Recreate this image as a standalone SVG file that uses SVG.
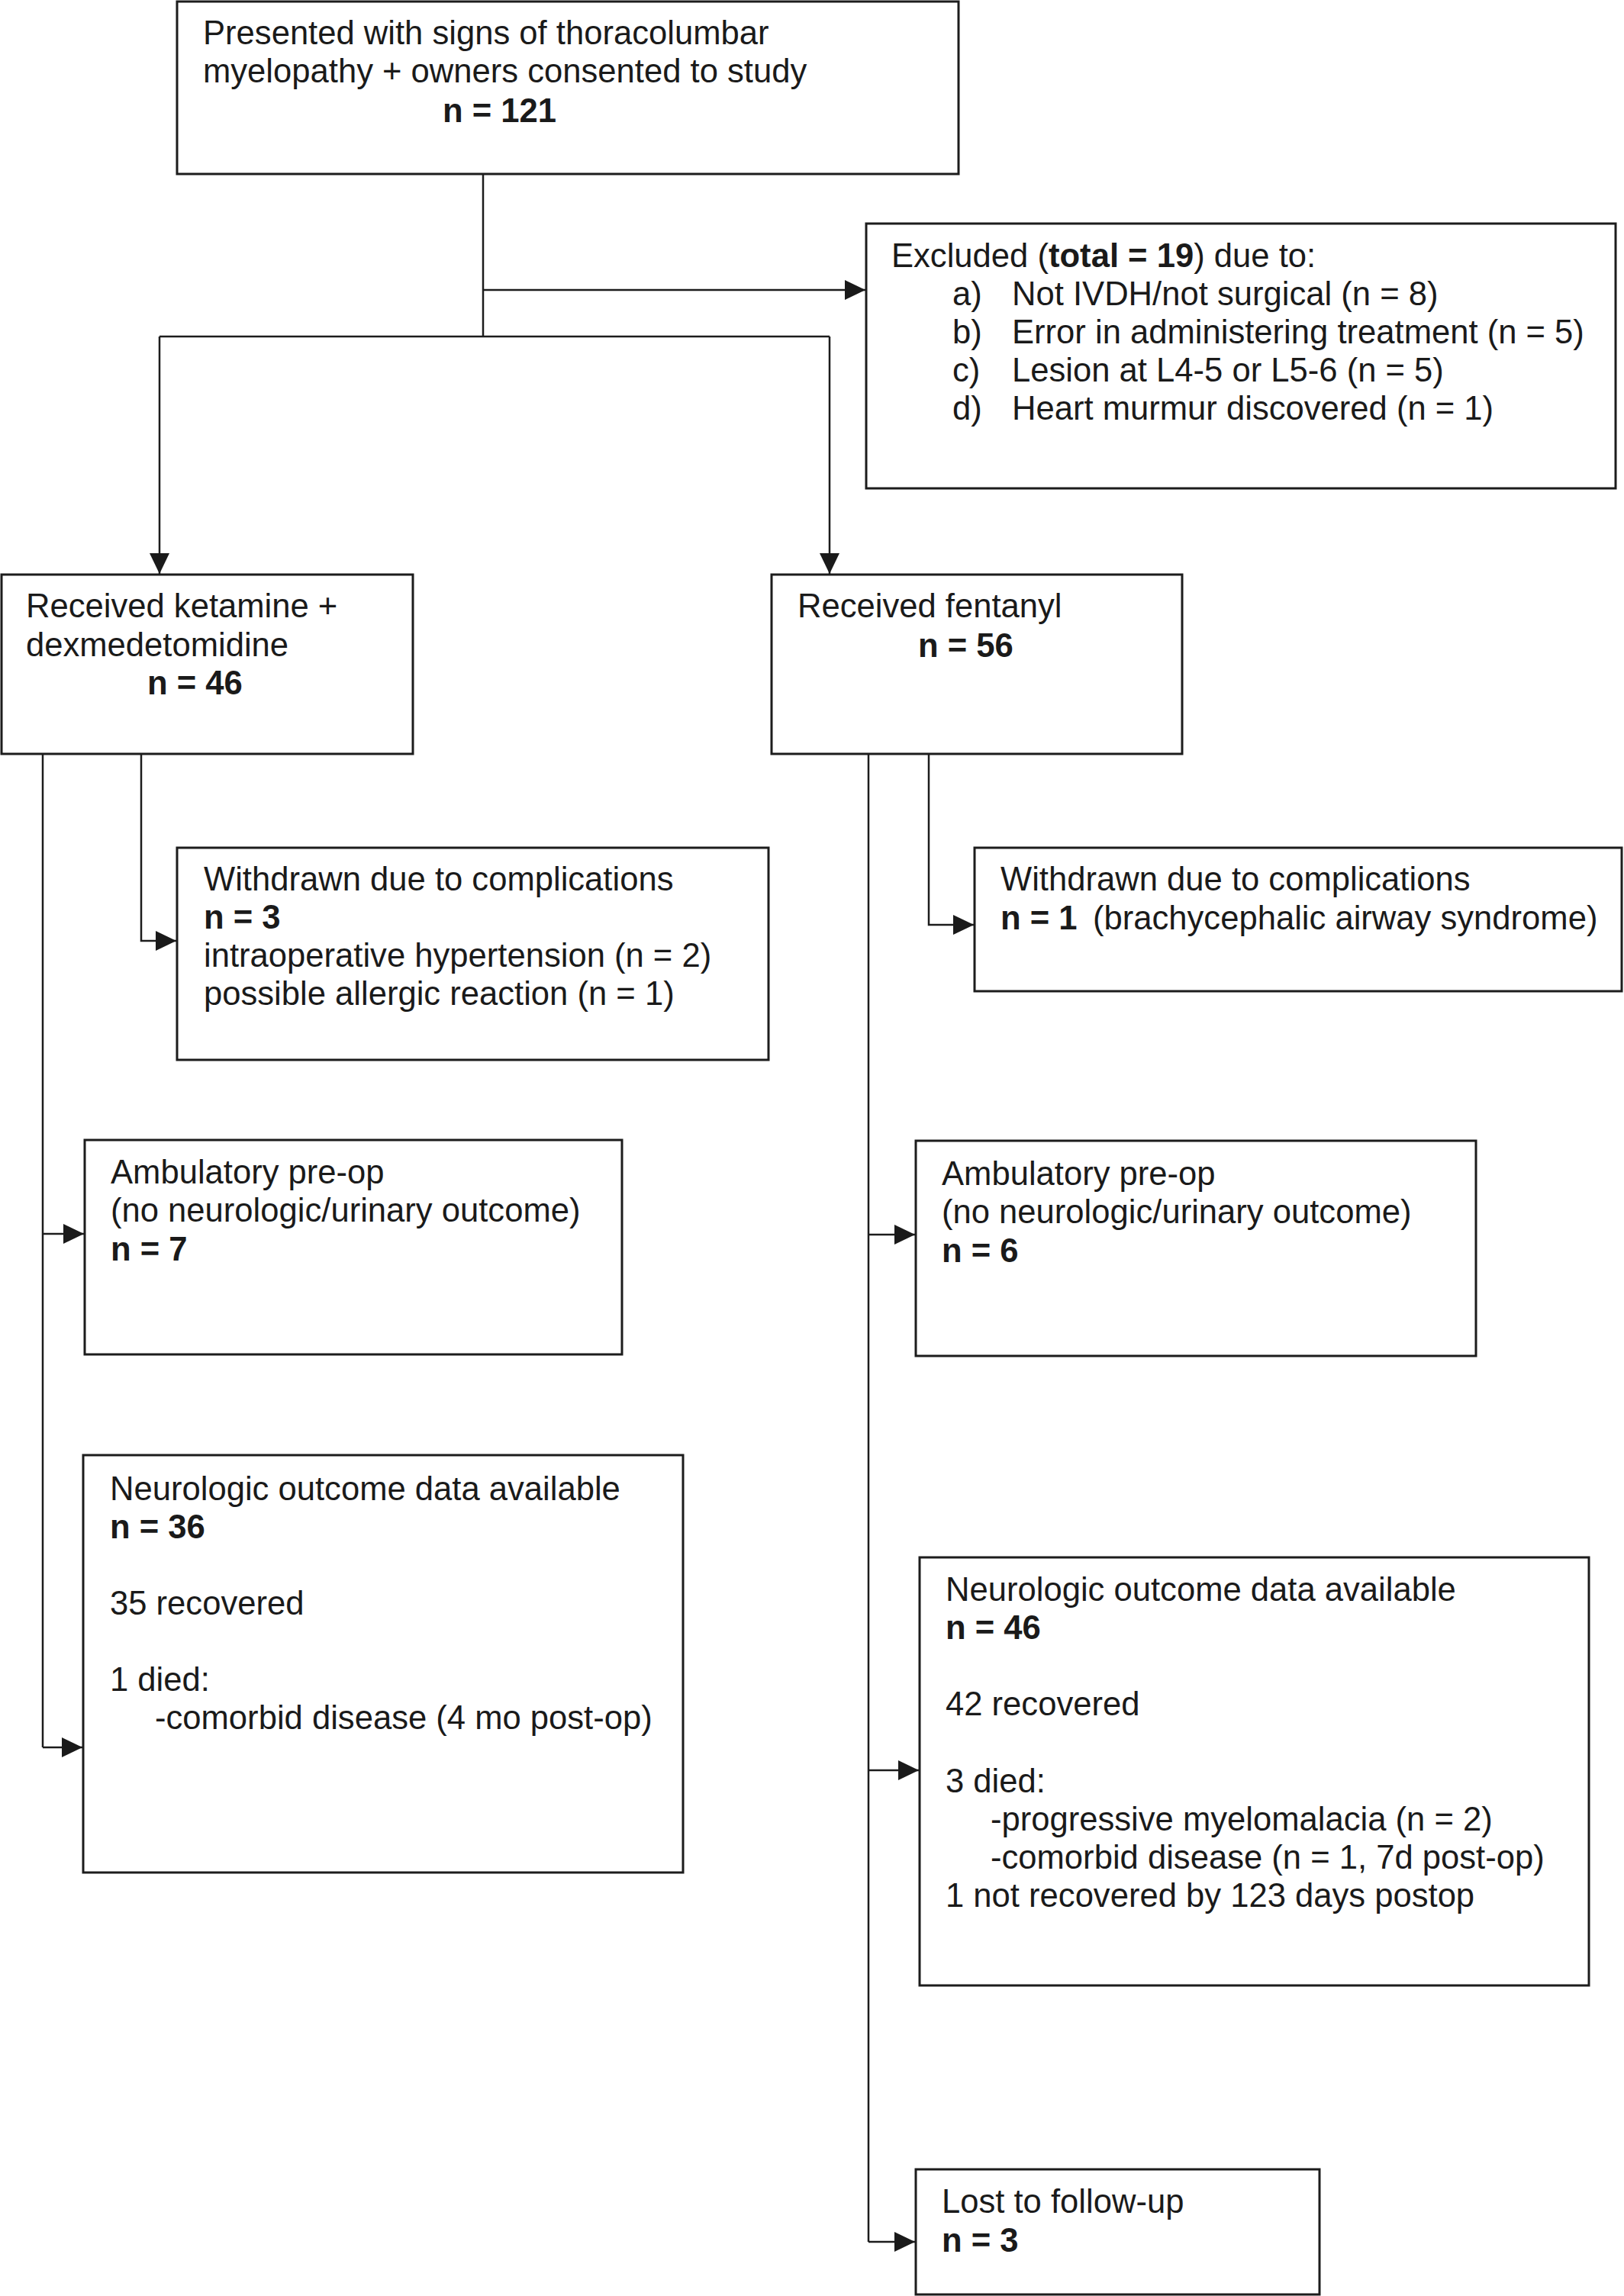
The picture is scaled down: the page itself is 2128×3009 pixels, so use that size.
<svg xmlns="http://www.w3.org/2000/svg" width="2128" height="3009" viewBox="0 0 2128 3009">
<style>
.box{fill:#fff;stroke:#1c1c1c;stroke-width:3}
.c{fill:none;stroke:#1c1c1c;stroke-width:2.5}
.t{font-family:"Liberation Sans",Arial,sans-serif;font-size:43.6px;fill:#1a1a1a}
.b{font-weight:bold}
</style>
<defs>
<marker id="ah" markerWidth="27" markerHeight="26" refX="27" refY="13" orient="auto" markerUnits="userSpaceOnUse">
<path d="M0,0 L27,13 L0,26 z" fill="#1a1a1a"/>
</marker>
</defs>
<rect width="2128" height="3009" fill="#fff"/>
<g id="connectors">
<path class="c" d="M633,228 V441"/>
<path class="c" d="M633,380 H1134" marker-end="url(#ah)"/>
<path class="c" d="M209,441 H1087"/>
<path class="c" d="M209,441 V752" marker-end="url(#ah)"/>
<path class="c" d="M1087,441 V752" marker-end="url(#ah)"/>
<path class="c" d="M56,988 V2290"/>
<path class="c" d="M56,1617 H110" marker-end="url(#ah)"/>
<path class="c" d="M56,2290 H108" marker-end="url(#ah)"/>
<path class="c" d="M185,988 V1233 H231" marker-end="url(#ah)"/>
<path class="c" d="M1138,988 V2938"/>
<path class="c" d="M1138,1618 H1199" marker-end="url(#ah)"/>
<path class="c" d="M1138,2320 H1204" marker-end="url(#ah)"/>
<path class="c" d="M1138,2938 H1199" marker-end="url(#ah)"/>
<path class="c" d="M1217,988 V1212 H1276" marker-end="url(#ah)"/>
</g>
<g id="n-presented">
<rect class="box" x="232" y="2" width="1024" height="226"/>
<text class="t" x="266" y="58">Presented with signs of thoracolumbar</text>
<text class="t" x="266" y="108">myelopathy + owners consented to study</text>
<text class="t b" x="580" y="160">n = 121</text>
</g>
<g id="n-excluded">
<rect class="box" x="1135" y="293" width="982" height="347"/>
<text class="t" x="1168" y="350">Excluded (<tspan class="b">total = 19</tspan>) due to:</text>
<text class="t" x="1248" y="400">a)</text><text class="t" x="1326" y="400">Not IVDH/not surgical (n = 8)</text>
<text class="t" x="1248" y="450">b)</text><text class="t" x="1326" y="450">Error in administering treatment (n = 5)</text>
<text class="t" x="1248" y="500">c)</text><text class="t" x="1326" y="500">Lesion at L4-5 or L5-6 (n = 5)</text>
<text class="t" x="1248" y="550">d)</text><text class="t" x="1326" y="550">Heart murmur discovered (n = 1)</text>
</g>
<g id="n-ketamine">
<rect class="box" x="2" y="753" width="539" height="235"/>
<text class="t" x="34" y="809">Received ketamine +</text>
<text class="t" x="34" y="860">dexmedetomidine</text>
<text class="t b" x="193" y="910">n = 46</text>
</g>
<g id="n-fentanyl">
<rect class="box" x="1011" y="753" width="538" height="235"/>
<text class="t" x="1045" y="809">Received fentanyl</text>
<text class="t b" x="1203" y="861">n = 56</text>
</g>
<g id="n-withdrawn-left">
<rect class="box" x="232" y="1111" width="775" height="278"/>
<text class="t" x="267" y="1167">Withdrawn due to complications</text>
<text class="t b" x="267" y="1217">n = 3</text>
<text class="t" x="267" y="1267">intraoperative hypertension (n = 2)</text>
<text class="t" x="267" y="1317">possible allergic reaction (n = 1)</text>
</g>
<g id="n-withdrawn-right">
<rect class="box" x="1277" y="1111" width="848" height="188"/>
<text class="t" x="1311" y="1167">Withdrawn due to complications</text>
<text class="t" x="1311" y="1218"><tspan class="b">n = 1</tspan><tspan x="1432">(brachycephalic airway syndrome)</tspan></text>
</g>
<g id="n-ambulatory-left">
<rect class="box" x="111" y="1494" width="704" height="281"/>
<text class="t" x="145" y="1551">Ambulatory pre-op</text>
<text class="t" x="145" y="1601">(no neurologic/urinary outcome)</text>
<text class="t b" x="145" y="1652">n = 7</text>
</g>
<g id="n-ambulatory-right">
<rect class="box" x="1200" y="1495" width="734" height="282"/>
<text class="t" x="1234" y="1553">Ambulatory pre-op</text>
<text class="t" x="1234" y="1603">(no neurologic/urinary outcome)</text>
<text class="t b" x="1234" y="1654">n = 6</text>
</g>
<g id="n-neuro-left">
<rect class="box" x="109" y="1907" width="786" height="547"/>
<text class="t" x="144" y="1966">Neurologic outcome data available</text>
<text class="t b" x="144" y="2016">n = 36</text>
<text class="t" x="144" y="2116">35 recovered</text>
<text class="t" x="144" y="2216">1 died:</text>
<text class="t" x="203" y="2266">-comorbid disease (4 mo post-op)</text>
</g>
<g id="n-neuro-right">
<rect class="box" x="1205" y="2041" width="877" height="561"/>
<text class="t" x="1239" y="2098">Neurologic outcome data available</text>
<text class="t b" x="1239" y="2148">n = 46</text>
<text class="t" x="1239" y="2248">42 recovered</text>
<text class="t" x="1239" y="2349">3 died:</text>
<text class="t" x="1298" y="2399">-progressive myelomalacia (n = 2)</text>
<text class="t" x="1298" y="2449">-comorbid disease (n = 1, 7d post-op)</text>
<text class="t" x="1239" y="2499">1 not recovered by 123 days postop</text>
</g>
<g id="n-lost">
<rect class="box" x="1200" y="2843" width="529" height="164"/>
<text class="t" x="1234" y="2900">Lost to follow-up</text>
<text class="t b" x="1234" y="2951">n = 3</text>
</g>
</svg>
